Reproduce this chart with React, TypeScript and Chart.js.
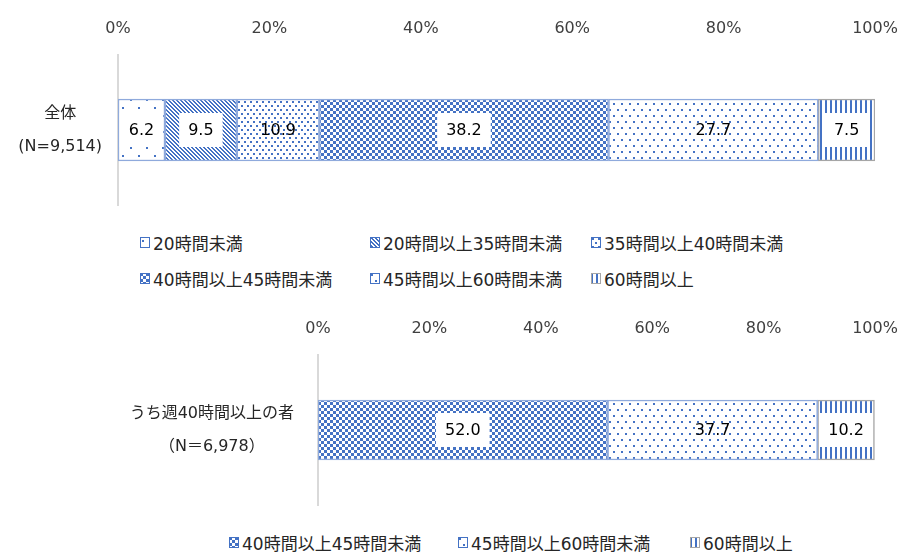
import React, { useEffect, useRef } from 'react';
import { Chart, registerables } from 'chart.js';
Chart.register(...registerables);

// ---- data ----
const categories1 = ['20時間未満', '20時間以上35時間未満', '35時間以上40時間未満', '40時間以上45時間未満', '45時間以上60時間未満', '60時間以上'];
const values1 = [6.2, 9.5, 10.9, 38.2, 27.7, 7.5];
const yLabel1 = ['全体', '(N=9,514)'];
const categories2 = ['40時間以上45時間未満', '45時間以上60時間未満', '60時間以上'];
const values2 = [52.0, 37.7, 10.2];
const yLabel2 = ['うち週40時間以上の者', '（N＝6,978）'];
const xTickValues = [0, 20, 40, 60, 80, 100];

// ---- styles ----
const BLUE = '#4472C4';
const FONT = "'DejaVu Sans', 'Noto Sans CJK JP', sans-serif";
type Kind = 'sparse' | 'diag' | 'dense' | 'check' | 'medium' | 'vstripe';
const styleByCategory: Record<string, { kind: Kind; border: string; box: boolean }> = {
  '20時間未満': { kind: 'sparse', border: '#8FAADC', box: true },
  '20時間以上35時間未満': { kind: 'diag', border: '#8FAADC', box: true },
  '35時間以上40時間未満': { kind: 'dense', border: '#8FAADC', box: false },
  '40時間以上45時間未満': { kind: 'check', border: '#8FAADC', box: true },
  '45時間以上60時間未満': { kind: 'medium', border: '#8FAADC', box: false },
  '60時間以上': { kind: 'vstripe', border: '#A6A6A6', box: true },
};

function makeTile(w: number, h: number, draw: (g: CanvasRenderingContext2D) => void) {
  const c = document.createElement('canvas');
  c.width = w; c.height = h;
  const g = c.getContext('2d')!;
  g.fillStyle = '#fff';
  g.fillRect(0, 0, w, h);
  g.fillStyle = BLUE;
  draw(g);
  return c;
}
const tiles: Record<Kind, () => HTMLCanvasElement> = {
  sparse: () => makeTile(16, 16, g => { g.fillRect(2, 3, 2, 2); g.fillRect(10, 11, 2, 2); }),
  diag: () => makeTile(4, 4, g => {
    for (let y = 0; y < 4; y++) for (let x = 0; x < 4; x++) if ((((x - y) % 4) + 4) % 4 < 2) g.fillRect(x, y, 1, 1);
  }),
  dense: () => makeTile(6, 8, g => { g.fillRect(1, 1, 2, 2); g.fillRect(4, 5, 2, 2); }),
  check: () => makeTile(6, 6, g => { g.fillRect(0, 0, 3, 3); g.fillRect(3, 3, 3, 3); }),
  medium: () => makeTile(8, 12, g => { g.fillRect(1, 1, 2, 2); g.fillRect(5, 7, 2, 2); }),
  vstripe: () => makeTile(5, 5, g => { g.fillRect(0, 0, 2, 5); }),
};
function pattern(kind: Kind) {
  const g = document.createElement('canvas').getContext('2d')!;
  return g.createPattern(tiles[kind](), 'repeat')!;
}

const labelPlugin = {
  id: 'boxLabels',
  afterDatasetsDraw(chart: any) {
    const ctx = chart.ctx;
    ctx.save();
    ctx.font = `16px ${FONT}`;
    ctx.textAlign = 'center';
    ctx.textBaseline = 'middle';
    chart.data.datasets.forEach((ds: any, i: number) => {
      const meta = chart.getDatasetMeta(i);
      meta.data.forEach((bar: any, j: number) => {
        const v = ds.data[j];
        const { x, y, base } = bar.getProps(['x', 'y', 'base'], true);
        const cx = (x + base) / 2;
        const text = Number(v).toFixed(1);
        const w = ctx.measureText(text).width;
        if (ds.labelBox) {
          ctx.fillStyle = '#fff';
          ctx.fillRect(cx - w / 2 - 9, y - 17, w + 18, 34);
        }
        ctx.fillStyle = '#000';
        ctx.fillText(text, cx, y + 1);
      });
    });
    ctx.restore();
  },
};

function BarChart({ categories, values, yLabel, axisWidth, yPad, barThickness }: any) {
  const ref = useRef<HTMLCanvasElement>(null);
  useEffect(() => {
    const datasets = categories.map((cat: string, i: number) => {
      const st = styleByCategory[cat];
      return {
        label: cat,
        data: [values[i]],
        backgroundColor: pattern(st.kind),
        borderColor: st.border,
        borderWidth: 1.5,
        borderSkipped: false,
        barThickness,
        labelBox: st.box,
      };
    });
    const chart = new Chart(ref.current!, {
      type: 'bar',
      data: { labels: [yLabel], datasets },
      options: {
        indexAxis: 'y',
        animation: false,
        responsive: false,
        devicePixelRatio: 1,
        layout: { padding: { left: 0, right: 25, top: 0, bottom: 10 } },
        plugins: { legend: { display: false }, tooltip: { enabled: false } },
        scales: {
          x: {
            position: 'top',
            stacked: true,
            min: 0,
            max: 100,
            afterBuildTicks: (s: any) => { s.ticks = xTickValues.map(v => ({ value: v })); },
            afterFit: (s: any) => { s.height = 55; s.paddingLeft = 0; s.paddingRight = 0; s.paddingTop = 0; s.paddingBottom = 0; },
            grid: { display: false, drawTicks: false },
            border: { display: false },
            ticks: {
              padding: 17,
              color: '#404040',
              font: { family: FONT, size: 16 },
              callback: (v: any) => v + '%',
            },
          },
          y: {
            stacked: true,
            afterFit: (s: any) => { s.width = axisWidth; s.paddingLeft = 0; s.paddingRight = 0; s.paddingTop = 0; s.paddingBottom = 0; },
            grid: { display: false, drawTicks: false },
            border: { display: true, color: '#D9D9D9', width: 2 },
            ticks: {
              crossAlign: 'center',
              padding: yPad,
              color: '#262626',
              font: { family: FONT, size: 16, lineHeight: 2.06 },
            },
          },
        },
      },
      plugins: [labelPlugin],
    } as any);
    return () => chart.destroy();
  }, []);
  return <canvas ref={ref} width={900} height={215} style={{ display: 'block' }} />;
}

function Swatch({ cat }: { cat: string }) {
  const ref = useRef<HTMLCanvasElement>(null);
  useEffect(() => {
    const st = styleByCategory[cat];
    const g = ref.current!.getContext('2d')!;
    g.fillStyle = g.createPattern(tiles[st.kind](), 'repeat')!;
    g.fillRect(0, 0, 10, 11);
    g.strokeStyle = st.kind === 'vstripe' ? '#A6A6A6' : BLUE;
    g.lineWidth = 1;
    g.strokeRect(0.5, 0.5, 9, 10);
  }, []);
  return <canvas ref={ref} width={10} height={11} style={{ display: 'block' }} />;
}

function LegendItem({ cat, x, y }: { cat: string; x: number; y: number }) {
  return (
    <div style={{ position: 'absolute', left: x, top: y - 12, height: 24, display: 'flex', alignItems: 'center', gap: 3, font: `17px ${FONT}`, color: '#262626', whiteSpace: 'nowrap' }}>
      <Swatch cat={cat} />
      <span>{cat}</span>
    </div>
  );
}

const legend1Pos = [[140, 242], [370, 242], [591, 242], [140, 278], [370, 278], [591, 278]];
const legend2Pos = [[229, 542], [458, 542], [690, 542]];

export default function App() {
  return (
    <div style={{ position: 'absolute', left: 0, top: 0, width: 900, height: 552, background: '#fff', overflow: 'hidden' }}>
      <div style={{ position: 'absolute', left: 0, top: 0 }}>
        <BarChart categories={categories1} values={values1} yLabel={yLabel1} axisWidth={118} yPad={16} barThickness={62} />
      </div>
      {categories1.map((c, i) => <LegendItem key={c} cat={c} x={legend1Pos[i][0]} y={legend1Pos[i][1]} />)}
      <div style={{ position: 'absolute', left: 0, top: 300 }}>
        <BarChart categories={categories2} values={values2} yLabel={yLabel2} axisWidth={318} yPad={24} barThickness={60} />
      </div>
      {categories2.map((c, i) => <LegendItem key={c} cat={c} x={legend2Pos[i][0]} y={legend2Pos[i][1]} />)}
    </div>
  );
}
